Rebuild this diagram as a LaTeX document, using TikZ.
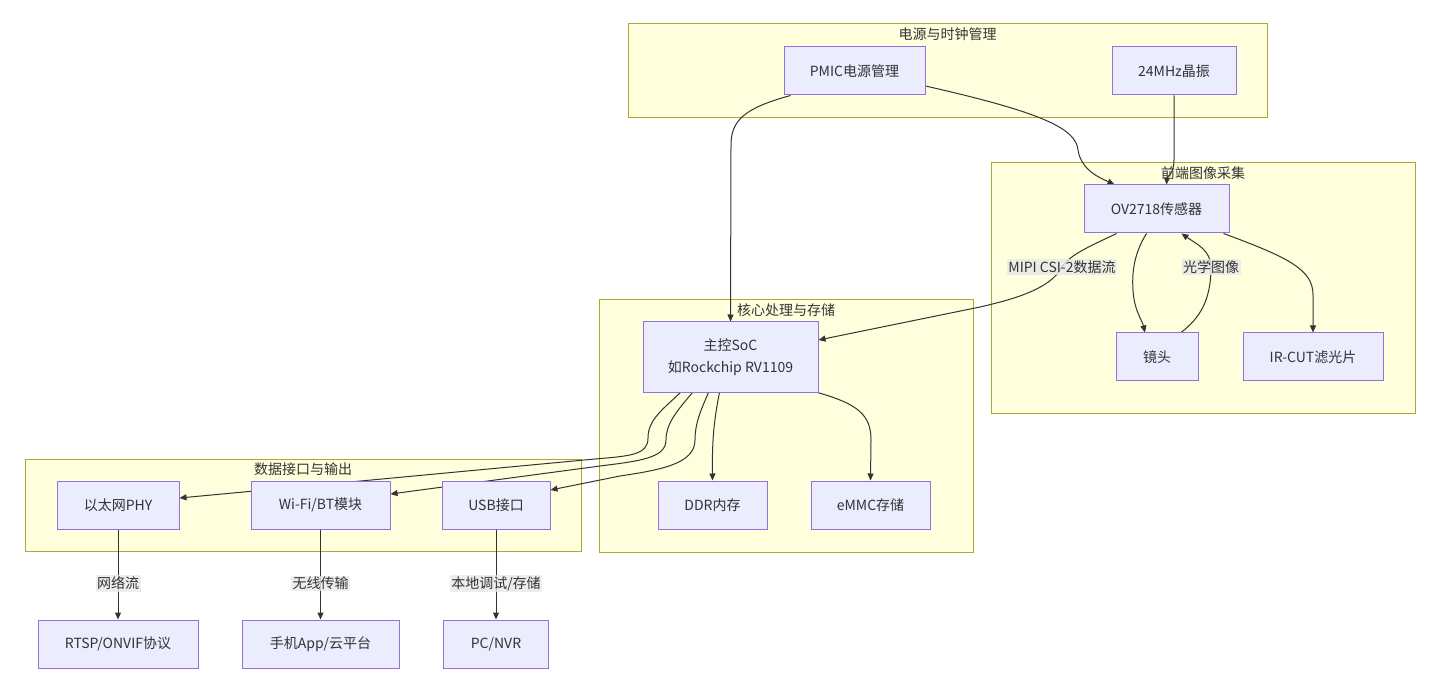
\documentclass[tikz,border=0pt]{standalone}
\usepackage{fontspec}
\setmainfont{Noto Sans CJK SC}
\usepackage{tikz}
\usetikzlibrary{arrows.meta, positioning, fit, backgrounds}
\definecolor{GroupFill}{HTML}{FFFFDE}
\definecolor{GroupBorder}{HTML}{AAAA33}
\definecolor{NodeFill}{HTML}{ECECFF}
\definecolor{NodeBorder}{HTML}{9370DB}
\definecolor{EdgeGray}{HTML}{333333}
\definecolor{LabelBg}{HTML}{E8E8E8}
\definecolor{TextGray}{HTML}{333333}
\pgfdeclarelayer{edges}
\pgfsetlayers{background,edges,main}

\begin{document}
\begin{tikzpicture}[
    x=1pt, y=-1pt,
    node distance = 90pt and 40pt,
    % Style for the component boxes
    block/.style = {
        rectangle, draw=NodeBorder, fill=NodeFill, line width=1pt,
        minimum height=48pt, inner sep=0pt, align=center,
        text=TextGray, font=\fontsize{14}{22}\selectfont
    },
    % Style for the yellow subsystem frames
    group/.style = {
        rectangle, draw=GroupBorder, fill=GroupFill, line width=1pt,
        inner sep=0pt
    },
    % Style for frame titles
    grouptitle/.style = {text=TextGray, font=\fontsize{14}{16}\selectfont, inner sep=1pt},
    % Style for connector labels
    elabel/.style = {
        fill=LabelBg, fill opacity=0.8, text opacity=1, text=TextGray,
        font=\fontsize{14}{16}\selectfont, inner sep=1.5pt
    },
    arr/.style = {-{Triangle[length=7pt,width=6pt]}, line width=1pt, color=EdgeGray},
]
\useasboundingbox (0,0) rectangle (1440,692);

% --- 1. DEFINE NODES ---

% Power and clock
\node[block, minimum width=141pt] (pmic) at (854.5,71) {PMIC电源管理};
\node[block, minimum width=124pt] (osc) at (1174,71) {24MHz晶振};

% Front-end capture
\node[block, minimum width=145pt] (sensor) at (1156.5,209) {OV2718传感器};
\node[block, minimum width=82pt] (lens) at (1157,357) {镜头};
\node[block, minimum width=140pt] (ircut) at (1313,357) {IR-CUT滤光片};

% Core processing and storage
\node[block, minimum width=175pt, minimum height=70pt] (soc) at (730.5,357) {主控SoC\\如Rockchip RV1109};
\node[block, minimum width=109pt] (ddr) at (712.5,505) {DDR内存};
\node[block, minimum width=119pt] (emmc) at (870.5,505) {eMMC存储};

% Data interfaces
\node[block, minimum width=122pt] (eth) at (118,505) {以太网PHY};
\node[block, minimum width=139pt] (wifi) at (320.5,505) {Wi-Fi/BT模块};
\node[block, minimum width=108pt] (usb) at (496,505) {USB接口};

% Outputs
\node[block, minimum width=160pt, below=90pt of eth] (rtsp) {RTSP/ONVIF协议};
\node[block, minimum width=157pt, below=90pt of wifi] (app) {手机App/云平台};
\node[block, minimum width=105pt, below=90pt of usb] (pc) {PC/NVR};


% --- 2. CREATE BACKGROUND FRAMES & TITLES ---
\begin{scope}[on background layer]
    % Power frame
    \node[group, fit={(628,24) (1267,118)}] (bg_power) {};
    \node[grouptitle, below=3pt of bg_power.north] {电源与时钟管理};

    % Front-end frame
    \node[group, fit={(991,163) (1415,413)}] (bg_front) {};
    \node[grouptitle, below=3pt of bg_front.north] {前端图像采集};

    % Core frame
    \node[group, fit={(599,300) (973,552)}] (bg_core) {};
    \node[grouptitle, below=3pt of bg_core.north] {核心处理与存储};

    % Interface frame
    \node[group, fit={(25,459) (581,551)}] (bg_io) {};
    \node[grouptitle, below=3pt of bg_io.north] {数据接口与输出};
\end{scope}


% --- 3. DRAW CONNECTORS ---
\begin{pgfonlayer}{edges}
\draw[arr] ([xshift=-64pt]pmic.south) .. controls (745,108) and (731,120) .. (731,145) -- (soc.north);
\draw[arr] ([yshift=-15pt]pmic.east) .. controls (1040,112) and (1076,128) .. (1078,150)
    .. controls (1081,170) and (1100,178) .. ([xshift=-42pt]sensor.north);
\draw[arr] (osc.south) -- (1174,160) .. controls (1174,174) and (1167,177) .. ([xshift=10pt]sensor.north);

\draw[arr] ([xshift=-40pt]sensor.south) .. controls (1095,244) and (1070,254) .. (1062,267)
    node[elabel] {MIPI CSI-2数据流}
    .. controls (1050,290) and (1010,300) .. (980,307) -- ([yshift=17pt]soc.east);
\draw[arr] ([xshift=-10pt]sensor.south) .. controls (1133,255) and (1132,275) .. (1133,290)
    .. controls (1134,310) and (1142,320) .. ([xshift=-12pt]lens.north);
\draw[arr] ([xshift=24pt]lens.north) .. controls (1200,318) and (1211,300) .. (1211,267)
    node[elabel] {光学图像}
    .. controls (1211,250) and (1195,243) .. ([xshift=25pt]sensor.south);
\draw[arr] ([xshift=67pt]sensor.south) .. controls (1290,258) and (1313,270) .. (1313,295) -- (ircut.north);

\draw[arr] ([xshift=-50pt]soc.south) .. controls (662,410) and (648,420) .. (648,438)
    .. controls (648,455) and (630,456) .. (595,459) -- ([yshift=7pt]eth.east);
\draw[arr] ([xshift=-38pt]soc.south) .. controls (676,412) and (666,424) .. (666,440)
    .. controls (666,458) and (640,461) .. (600,466) -- ([yshift=11pt]wifi.east);
\draw[arr] ([xshift=-22pt]soc.south) .. controls (700,412) and (695,424) .. (695,440)
    .. controls (695,464) and (660,470) .. (620,476) -- ([yshift=15pt]usb.east);
\draw[arr] ([xshift=-11pt]soc.south) .. controls (714,420) and (712,440) .. (ddr.north);
\draw[arr] ([xshift=-1pt]soc.south east) .. controls (858,404) and (871,415) .. (871,440) -- (emmc.north);

\draw[arr] (eth) -- node[elabel, pos=0.6] {网络流} (rtsp);
\draw[arr] (wifi) -- node[elabel, pos=0.6] {无线传输} (app);
\draw[arr] (usb) -- node[elabel, pos=0.6] {本地调试/存储} (pc);
\end{pgfonlayer}

\end{tikzpicture}
\end{document}
